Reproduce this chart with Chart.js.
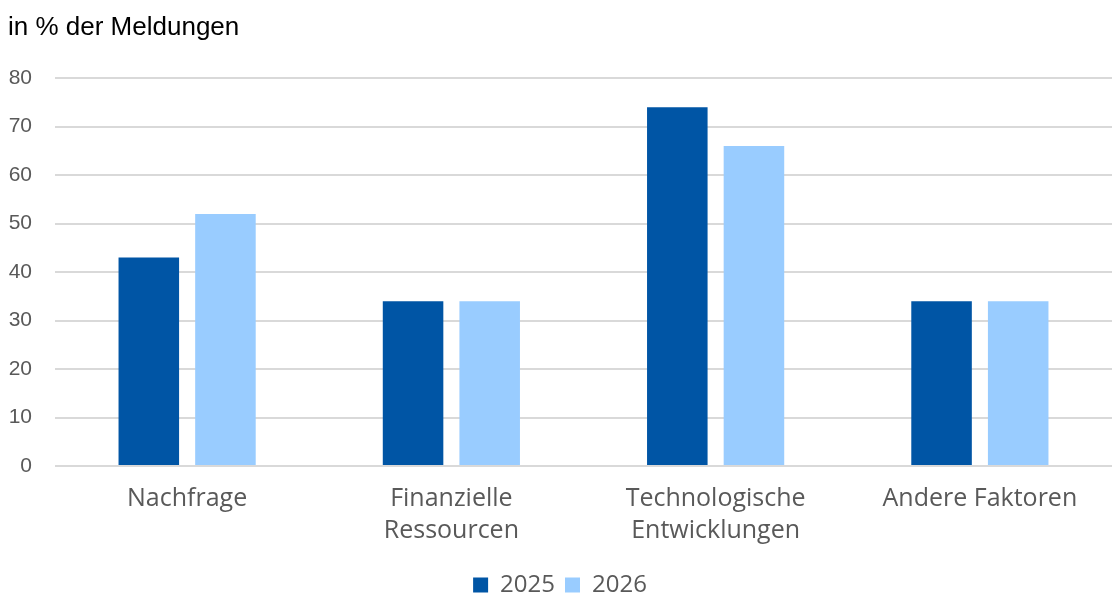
<!DOCTYPE html>
<html>
<head>
<meta charset="utf-8">
<script src="https://cdn.jsdelivr.net/npm/chart.js@4"></script>
<style>
    html, body { margin: 0; padding: 0; background: #fff; }
    #wrap { width: 1113px; height: 596px; }
</style>
</head>
<body>
<div id="wrap"><canvas id="chart" width="1113" height="596"></canvas></div>
<script>
// Bar chart: factors, in % der Meldungen
const categories = ['Nachfrage', ['Finanzielle', 'Ressourcen'], ['Technologische', 'Entwicklungen'], 'Andere Faktoren'];
const seriesNames = ['2025', '2026'];
const values2025 = [43, 34, 74, 34];
const values2026 = [52, 34, 66, 34];
const yTicks = [0, 10, 20, 30, 40, 50, 60, 70, 80];

const labelFont = '"Open Sans", "Noto Sans", sans-serif';
const arialFont = '"Liberation Sans", Arial, sans-serif';

const ctx = document.getElementById('chart').getContext('2d');
new Chart(ctx, {
    type: 'bar',
    data: {
        labels: categories,
        datasets: [{
            label: seriesNames[0],
            data: values2025,
            backgroundColor: '#0055a5',
            categoryPercentage: 0.58,
            barPercentage: 0.79
        }, {
            label: seriesNames[1],
            data: values2026,
            backgroundColor: '#99ccff',
            categoryPercentage: 0.58,
            barPercentage: 0.79
        }]
    },
    options: {
        responsive: false,
        animation: false,
        layout: { padding: { left: 8, right: 1, top: 12, bottom: -11 } },
        plugins: {
            title: {
                display: true,
                text: 'in % der Meldungen',
                align: 'start',
                color: '#000',
                font: { family: arialFont, size: 26, weight: 'normal' },
                padding: { top: 0, bottom: 35 }
            },
            legend: {
                position: 'bottom',
                labels: {
                    boxWidth: 15,
                    boxHeight: 15,
                    color: '#595959',
                    font: { family: labelFont, size: 24 },
                    padding: 10
                }
            },
            tooltip: { enabled: false }
        },
        scales: {
            x: {
                grid: { display: false },
                border: { display: false },
                afterFit: axis => { axis.height = 97; },
                ticks: {
                    color: '#595959',
                    font: { family: labelFont, size: 25, lineHeight: 1.28 },
                    maxRotation: 0,
                    padding: 9
                }
            },
            y: {
                min: 0,
                max: 80,
                afterBuildTicks: axis => { axis.ticks = yTicks.map(v => ({ value: v })); },
                afterFit: axis => { axis.width = 47; },
                grid: { color: '#d9d9d9', lineWidth: 2, drawTicks: false },
                border: { display: false },
                ticks: {
                    color: '#595959',
                    font: { family: arialFont, size: 21 },
                    padding: 23
                }
            }
        }
    }
});
</script>
</body>
</html>
